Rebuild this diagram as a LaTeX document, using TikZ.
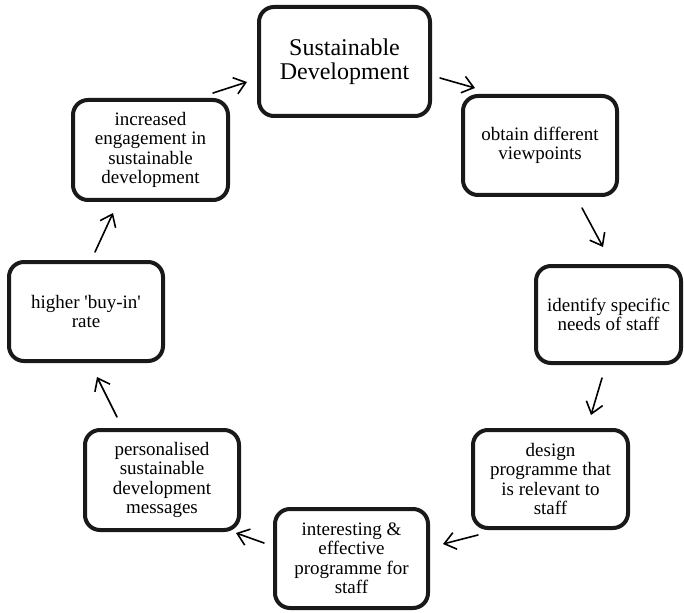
\documentclass[tikz,border=0pt]{standalone}
\usepackage{fontspec}
\setmainfont{Liberation Serif}[Ligatures=TeXOff]
\usetikzlibrary{arrows.meta,calc}
\begin{document}
\begin{tikzpicture}[x=1pt,y=-1pt,
  stage/.style={draw=black!90, line width=4pt, rounded corners=15pt,
    align=center, inner sep=0pt, outer sep=0pt,
    font=\fontsize{19}{19.5}\selectfont},
  flow/.style={line width=1.6pt, line cap=round,
    -{Straight Barb[length=11pt,width=17pt,line width=1.6pt]}}]
\useasboundingbox (0,0) rectangle (684,612);

% stages of the cycle
\node[stage, minimum width=171pt, minimum height=109pt,
  font=\fontsize{24}{24}\selectfont] (sd) at (344.5,61.5) {Sustainable\\Development};
\node[stage, minimum width=154pt, minimum height=99pt] (view) at (540,145.5)
  {obtain different\\viewpoints};
\node[stage, minimum width=145pt, minimum height=97pt] (needs) at (608.5,314.5)
  {identify specific\\needs of staff};
\node[stage, minimum width=155pt, minimum height=98pt] (design) at (550.5,479)
  {design\\programme that\\is relevant to\\staff};
\node[stage, minimum width=153pt, minimum height=99pt] (prog) at (351.5,558.5)
  {interesting \&\\effective\\programme for\\staff};
\node[stage, minimum width=154pt, minimum height=100pt] (msg) at (162,480)
  {personalised\\sustainable\\development\\messages};
\node[stage, minimum width=154pt, minimum height=99pt] (buyin) at (86,311.5)
  {higher 'buy-in'\\rate};
\node[stage, minimum width=155pt, minimum height=100pt] (engage) at (150.5,150)
  {increased\\engagement in\\sustainable\\development};

% short arrows between consecutive stages
\draw[flow] ($(sd)+(95.5,16.5)$) -- ($(view)+(-65,-57.5)$);
\draw[flow] ($(view)+(42,62.5)$) -- ($(needs)+(-5.5,-67.5)$);
\draw[flow] ($(needs)+(-6.5,63.5)$) -- ($(design)+(40.5,-64)$);
\draw[flow] ($(design)+(-72.5,56)$) -- ($(prog)+(91.5,-14.5)$);
\draw[flow] ($(prog)+(-87.5,-15.5)$) -- ($(msg)+(74,53)$);
\draw[flow] ($(msg)+(-45,-63)$) -- ($(buyin)+(11,65.5)$);
\draw[flow] ($(buyin)+(9,-59.5)$) -- ($(engage)+(-37.5,63)$);
\draw[flow] ($(engage)+(62.5,-57)$) -- ($(sd)+(-97.5,20.5)$);
\end{tikzpicture}
\end{document}
